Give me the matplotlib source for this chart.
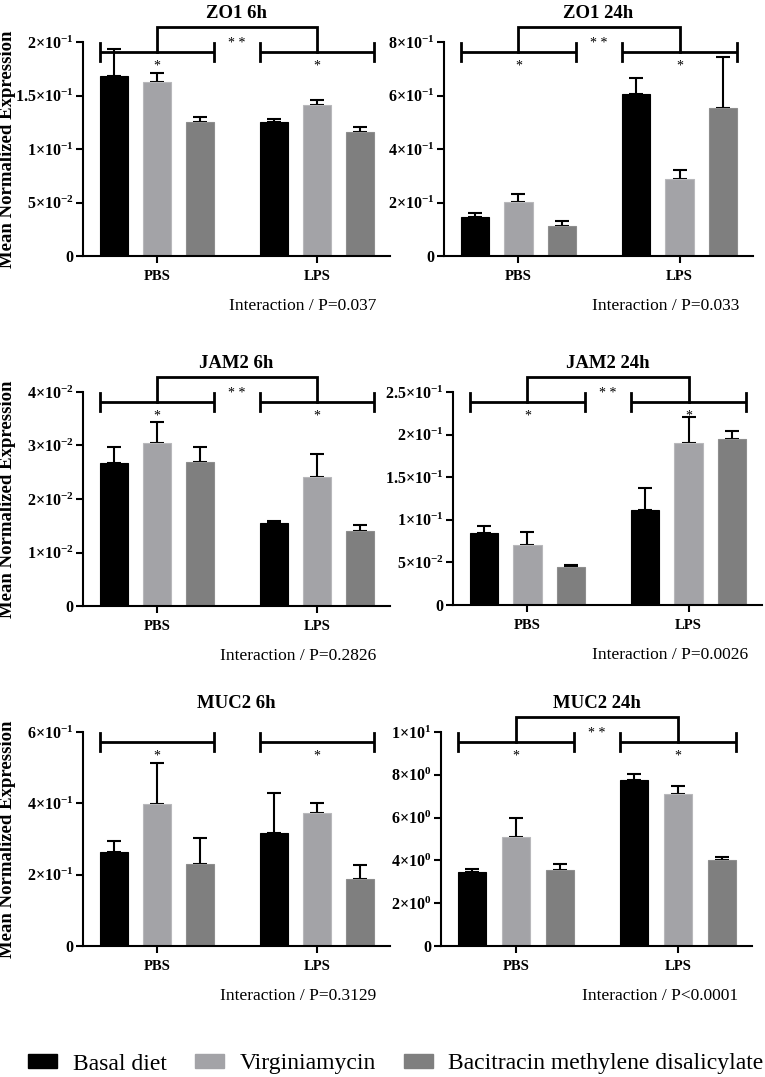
import numpy as np
import matplotlib
matplotlib.use('Agg')
import matplotlib.pyplot as plt
from matplotlib.patches import Patch

plt.rcParams['font.family'] = ['Liberation Serif', 'DejaVu Serif']
plt.rcParams['mathtext.fontset'] = 'custom'
plt.rcParams['mathtext.rm'] = 'Liberation Serif:bold'
plt.rcParams['mathtext.bf'] = 'Liberation Serif:bold'
plt.rcParams['mathtext.default'] = 'bf'

groups = ['PBS', 'LPS']
treatments = ['Basal diet', 'Virginiamycin', 'Bacitracin methylene disalicylate']
colors = ['#000000', '#a3a3a7', '#7f7f7f']
edges = ['#000000', '#b8b8bb', '#8e8e8e']

titles = ['ZO1 6h', 'ZO1 24h', 'JAM2 6h', 'JAM2 24h', 'MUC2 6h', 'MUC2 24h']
pvals = ['Interaction / P=0.037', 'Interaction / P=0.033', 'Interaction / P=0.2826',
         'Interaction / P=0.0026', 'Interaction / P=0.3129', 'Interaction / P<0.0001']

# means per panel: rows = treatment, cols = PBS, LPS
zo1_6h_mean = [[0.168, 0.125], [0.163, 0.141], [0.125, 0.116]]
zo1_6h_err = [[0.025, 0.003], [0.008, 0.005], [0.005, 0.005]]
zo1_24h_mean = [[0.144, 0.607], [0.203, 0.286], [0.114, 0.553]]
zo1_24h_err = [[0.015, 0.057], [0.029, 0.036], [0.015, 0.190]]
jam2_6h_mean = [[0.0268, 0.0155], [0.0304, 0.0242], [0.0269, 0.0141]]
jam2_6h_err = [[0.0029, 0.0004], [0.0040, 0.0042], [0.0029, 0.0010]]
jam2_24h_mean = [[0.0848, 0.1113], [0.0699, 0.1898], [0.0441, 0.1945]]
jam2_24h_err = [[0.0074, 0.0266], [0.0156, 0.0305], [0.0028, 0.0098]]
muc2_6h_mean = [[0.263, 0.317], [0.399, 0.374], [0.230, 0.189]]
muc2_6h_err = [[0.030, 0.111], [0.115, 0.026], [0.072, 0.039]]
muc2_24h_mean = [[3.47, 7.77], [5.11, 7.09], [3.55, 4.00]]
muc2_24h_err = [[0.14, 0.26], [0.89, 0.39], [0.27, 0.16]]

means = [zo1_6h_mean, zo1_24h_mean, jam2_6h_mean, jam2_24h_mean, muc2_6h_mean, muc2_24h_mean]
errs = [zo1_6h_err, zo1_24h_err, jam2_6h_err, jam2_24h_err, muc2_6h_err, muc2_24h_err]

yticks = [[0, 0.05, 0.1, 0.15, 0.2], [0, 0.2, 0.4, 0.6, 0.8],
          [0, 0.01, 0.02, 0.03, 0.04], [0, 0.05, 0.1, 0.15, 0.2, 0.25],
          [0, 0.2, 0.4, 0.6], [0, 2, 4, 6, 8, 10]]
yticklabels = [['0', '5×10$^{-2}$', '1×10$^{-1}$', '1.5×10$^{-1}$', '2×10$^{-1}$'],
               ['0', '2×10$^{-1}$', '4×10$^{-1}$', '6×10$^{-1}$', '8×10$^{-1}$'],
               ['0', '1×10$^{-2}$', '2×10$^{-2}$', '3×10$^{-2}$', '4×10$^{-2}$'],
               ['0', '5×10$^{-2}$', '1×10$^{-1}$', '1.5×10$^{-1}$', '2×10$^{-1}$', '2.5×10$^{-1}$'],
               ['0', '2×10$^{-1}$', '4×10$^{-1}$', '6×10$^{-1}$'],
               ['0', '2×10$^{0}$', '4×10$^{0}$', '6×10$^{0}$', '8×10$^{0}$', '1×10$^{1}$']]
interaction_bracket = [True, True, True, True, False, True]

# axes boxes in pixels: left, right, top, bottom
W, H = 765, 1077
boxes = [(83, 390, 42, 256), (444, 753, 42, 256),
         (83, 390, 392, 606), (453, 762, 392, 605),
         (83, 390, 732, 946), (441, 752, 732, 946)]

fig = plt.figure(figsize=(W / 100, H / 100), dpi=100)
x = np.arange(len(groups))
off = 0.27
bw = 0.175
lw = 1.5

for i in range(6):
    l, r, t, b = boxes[i]
    ax = fig.add_axes([l / W, 1 - b / H, (r - l) / W, (b - t) / H])
    m = np.array(means[i])
    e = np.array(errs[i])
    for k in range(3):
        ax.bar(x + (k - 1) * off, m[k], bw, color=colors[k], edgecolor=edges[k],
               linewidth=0.8, zorder=2)
        ax.errorbar(x + (k - 1) * off, m[k], yerr=[np.zeros(2), e[k]], fmt='none',
                    ecolor='black', elinewidth=lw, capsize=5, capthick=lw, zorder=1)
    T = yticks[i][-1]
    ax.set_ylim(0, T)
    ax.set_xlim(-0.4625, 1.456)
    ax.set_yticks(yticks[i])
    ax.set_yticklabels(yticklabels[i], fontsize=11.5, fontweight='bold')
    ax.set_xticks(x)
    ax.set_xticklabels(groups, fontsize=10.5, fontweight='bold')
    ax.spines['top'].set_visible(False)
    ax.spines['right'].set_visible(False)
    ax.spines['left'].set_linewidth(lw)
    ax.spines['bottom'].set_linewidth(lw)
    ax.tick_params(axis='y', length=5, width=lw, pad=2)
    ax.tick_params(axis='x', length=5, width=lw, pad=5)
    ax.set_title(titles[i], fontsize=13.5, fontweight='bold', pad=17)

    # significance brackets
    yl = 0.955 * T
    cap = 0.042 * T
    for g in range(2):
        x0, x1 = g - off - bw / 2, g + off + bw / 2
        ax.plot([x0, x1], [yl, yl], color='black', lw=2, clip_on=False, solid_capstyle='butt')
        ax.plot([x0, x0], [yl - cap, yl + cap], color='black', lw=2, clip_on=False)
        ax.plot([x1, x1], [yl - cap, yl + cap], color='black', lw=2, clip_on=False)
        ax.text(g, 0.873 * T, '*', ha='center', va='baseline', fontsize=10, clip_on=False)
    if interaction_bracket[i]:
        yu = 1.072 * T
        ax.plot([0, 0, 1, 1], [yl, yu, yu, yl], color='black', lw=2, clip_on=False,
                solid_joinstyle='miter')
        ax.text(0.5, 0.977 * T, '* *', ha='center', va='baseline', fontsize=10, clip_on=False)

    ax.text(0.955, -0.235, pvals[i], transform=ax.transAxes, ha='right', va='center', fontsize=12.5)
    if i % 2 == 0:
        ax.set_ylabel('Mean Normalized Expression', fontsize=13.5, fontweight='bold')
        ax.yaxis.set_label_coords((16.5 - l) / (r - l), 0.5)

handles = [Patch(facecolor=c, edgecolor=c) for c in colors]
fig.legend(handles, treatments, loc='center', bbox_to_anchor=(396 / W, 1 - 1064 / H), ncol=3,
           frameon=False, fontsize=17, handlelength=1.23, handleheight=0.53,
           columnspacing=1.2, handletextpad=0.65, borderpad=0, borderaxespad=0)

fig.savefig('out.png', dpi=100)
